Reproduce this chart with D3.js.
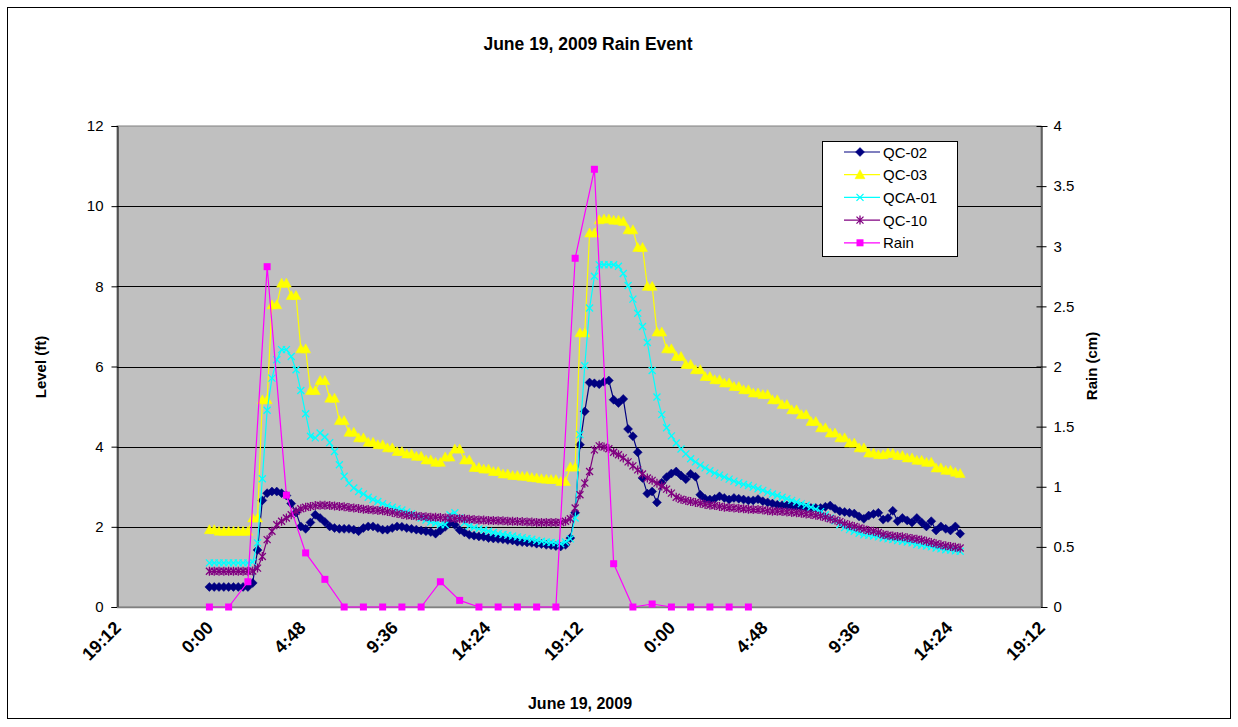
<!DOCTYPE html>
<html>
<head>
<meta charset="utf-8">
<script src="https://cdn.jsdelivr.net/npm/d3@7"></script>
<style>
  body { margin: 0; background: #fff; }
  svg { display: block; }
  text { font-family: "Liberation Sans", Arial, sans-serif; fill: #000; }
</style>
</head>
<body>
<svg id="chart" width="1238" height="727"></svg>
<script>
// ---- Data: water level (ft) every 15 minutes from 0:00, June 19 2009 ----
const qc02 = [
  0.50,0.50,0.50,0.50,0.50,0.50,0.50,0.50,0.50,0.60,
  1.42,2.66,2.84,2.88,2.88,2.84,2.78,2.58,2.36,2.01,
  1.95,2.11,2.30,2.22,2.12,2.01,1.97,1.95,1.95,1.95,
  1.93,1.89,1.97,2.01,2.01,1.97,1.93,1.93,1.97,2.01,
  2.00,1.97,1.95,1.93,1.91,1.89,1.87,1.83,1.91,2.00,
  2.10,2.05,1.92,1.86,1.80,1.78,1.76,1.75,1.72,1.71,
  1.70,1.69,1.67,1.66,1.63,1.62,1.61,1.60,1.58,1.57,
  1.55,1.54,1.52,1.51,1.55,1.72,2.35,4.05,4.88,5.60,
  5.58,5.56,5.62,5.65,5.17,5.09,5.19,4.44,4.26,3.86,
  3.22,2.83,2.88,2.61,3.10,3.24,3.33,3.38,3.28,3.19,
  3.32,3.25,2.80,2.70,2.68,2.70,2.76,2.72,2.68,2.72,
  2.70,2.68,2.66,2.66,2.69,2.64,2.61,2.58,2.55,2.54,
  2.53,2.52,2.51,2.50,2.48,2.47,2.47,2.47,2.50,2.53,
  2.45,2.39,2.37,2.35,2.33,2.26,2.20,2.28,2.32,2.35,
  2.18,2.22,2.40,2.14,2.22,2.16,2.11,2.22,2.11,2.01,
  2.14,1.91,2.01,1.95,1.91,2.01,1.83
];
const qc03 = [
  1.93,1.93,1.89,1.89,1.89,1.89,1.89,1.89,1.89,2.22,
  2.22,5.17,5.17,7.54,7.54,8.08,8.08,7.77,7.77,6.44,
  6.44,5.40,5.40,5.65,5.65,5.21,5.21,4.65,4.65,4.36,
  4.36,4.22,4.22,4.11,4.11,4.05,4.05,3.97,3.97,3.88,
  3.88,3.82,3.82,3.76,3.76,3.67,3.67,3.61,3.61,3.74,
  3.74,3.94,3.94,3.67,3.67,3.48,3.48,3.44,3.44,3.38,
  3.38,3.32,3.32,3.28,3.28,3.26,3.26,3.23,3.22,3.20,
  3.19,3.18,3.18,3.13,3.13,3.49,3.49,6.84,6.84,9.33,
  9.33,9.66,9.68,9.68,9.65,9.65,9.62,9.41,9.41,8.97,
  8.97,8.00,8.00,6.86,6.86,6.44,6.44,6.25,6.25,6.05,
  6.05,5.92,5.92,5.75,5.75,5.67,5.67,5.59,5.59,5.50,
  5.50,5.42,5.42,5.34,5.34,5.30,5.30,5.17,5.17,5.05,
  5.05,4.92,4.92,4.80,4.80,4.63,4.63,4.47,4.47,4.34,
  4.34,4.22,4.22,4.09,4.09,3.97,3.97,3.84,3.84,3.80,
  3.80,3.84,3.83,3.78,3.78,3.72,3.72,3.66,3.66,3.61,
  3.61,3.47,3.47,3.41,3.41,3.36,3.33
];
const qca01 = [
  1.10,1.10,1.10,1.10,1.10,1.10,1.10,1.10,1.10,1.12,
  1.60,3.20,4.91,5.71,6.17,6.42,6.42,6.25,5.92,5.40,
  4.82,4.26,4.22,4.34,4.24,4.10,3.88,3.55,3.26,3.09,
  2.97,2.88,2.82,2.74,2.68,2.63,2.58,2.53,2.49,2.45,
  2.42,2.37,2.33,2.27,2.22,2.17,2.12,2.09,2.06,2.05,
  2.30,2.35,2.22,2.10,2.02,1.98,1.95,1.92,1.89,1.86,
  1.83,1.81,1.79,1.77,1.75,1.73,1.71,1.69,1.66,1.64,
  1.62,1.61,1.60,1.58,1.62,1.70,2.22,4.30,6.02,7.46,
  8.25,8.54,8.54,8.54,8.54,8.50,8.32,8.02,7.68,7.33,
  7.00,6.60,5.90,5.24,4.80,4.47,4.27,4.09,3.94,3.82,
  3.70,3.62,3.54,3.47,3.40,3.34,3.29,3.24,3.19,3.14,
  3.10,3.06,3.03,2.99,2.95,2.91,2.86,2.82,2.78,2.74,
  2.70,2.66,2.62,2.58,2.54,2.49,2.44,2.38,2.30,2.22,
  2.15,2.05,1.98,1.93,1.89,1.84,1.80,1.79,1.77,1.75,
  1.72,1.70,1.68,1.66,1.64,1.62,1.60,1.56,1.54,1.52,
  1.50,1.47,1.45,1.43,1.42,1.40,1.39
];
const qc10 = [
  0.89,0.89,0.89,0.89,0.89,0.89,0.89,0.89,0.89,0.90,
  0.97,1.26,1.68,1.89,2.05,2.14,2.22,2.30,2.39,2.45,
  2.49,2.51,2.53,2.54,2.54,2.53,2.52,2.51,2.50,2.48,
  2.47,2.46,2.44,2.43,2.42,2.41,2.40,2.38,2.36,2.33,
  2.31,2.29,2.28,2.27,2.26,2.25,2.24,2.24,2.23,2.22,
  2.22,2.21,2.20,2.20,2.19,2.18,2.17,2.17,2.16,2.16,
  2.15,2.15,2.14,2.14,2.13,2.13,2.12,2.12,2.11,2.11,
  2.11,2.11,2.11,2.11,2.14,2.20,2.47,2.80,3.09,3.38,
  3.92,4.02,3.99,3.95,3.86,3.80,3.72,3.62,3.52,3.42,
  3.32,3.22,3.16,3.09,3.02,2.94,2.84,2.74,2.69,2.66,
  2.63,2.61,2.59,2.56,2.54,2.53,2.51,2.49,2.48,2.47,
  2.46,2.45,2.44,2.43,2.43,2.42,2.40,2.39,2.39,2.38,
  2.37,2.36,2.35,2.34,2.32,2.31,2.29,2.27,2.24,2.20,
  2.17,2.13,2.08,2.04,2.01,1.97,1.94,1.91,1.89,1.86,
  1.81,1.79,1.77,1.76,1.75,1.73,1.71,1.69,1.67,1.64,
  1.61,1.58,1.55,1.53,1.51,1.49,1.47
];
// ---- Data: hourly rainfall (cm) from 0:00, June 19 2009 ----
const rainCm = [
  0,0,0.21,2.83,0.93,0.45,0.23,0,0,0,
  0,0,0.21,0.055,0,0,0,0,0,2.90,
  3.64,0.36,0,0.025,0,0,0,0,0
];
const levelTicks = [0,2,4,6,8,10,12];
const rainTicks = [0,0.5,1,1.5,2,2.5,3,3.5,4];
const legendLabels = ["QC-02","QC-03","QCA-01","QC-10","Rain"];

// ---- Time base ----
const dataStart = new Date(2009, 5, 19, 0, 0);
const axisStart = new Date(2009, 5, 18, 19, 12);
const axisEnd   = new Date(2009, 5, 20, 19, 12);
const levelTime = i => d3.timeMinute.offset(dataStart, 15 * i);
const rainTime  = i => d3.timeHour.offset(dataStart, i);
const timeTicks = d3.range(11).map(k => d3.timeMinute.offset(axisStart, 288 * k));
const fmtTime = d3.timeFormat("%-H:%M");

// ---- Layout ----
const svg = d3.select("#chart");
const plot = { left: 117, right: 1041, top: 126, bottom: 607 };
const FONT = '"Liberation Sans", Arial, sans-serif';

const x = d3.scaleTime().domain([axisStart, axisEnd]).range([plot.left, plot.right]);
const yL = d3.scaleLinear().domain([0, 12]).range([plot.bottom, plot.top]);
const yR = d3.scaleLinear().domain([0, 4]).range([plot.bottom, plot.top]);

// outer chart frame
svg.append("rect").attr("x", 7.5).attr("y", 7.5).attr("width", 1223).attr("height", 711)
  .attr("fill", "#fff").attr("stroke", "#000").attr("stroke-width", 1);

// plot area
svg.append("rect")
  .attr("x", plot.left).attr("y", plot.top)
  .attr("width", plot.right - plot.left).attr("height", plot.bottom - plot.top)
  .attr("fill", "#c0c0c0").attr("stroke", "#808080").attr("stroke-width", 1);

// horizontal gridlines on level axis
svg.append("g").selectAll("line")
  .data(levelTicks.filter(d => d > 0 && d < 12))
  .join("line")
  .attr("x1", plot.left).attr("x2", plot.right)
  .attr("y1", d => Math.round(yL(d)) + 0.5).attr("y2", d => Math.round(yL(d)) + 0.5)
  .attr("stroke", "#000").attr("stroke-width", 1);

// left axis
const axL = svg.append("g").attr("transform", `translate(${plot.left + 0.5},0)`)
  .call(d3.axisLeft(yL).tickValues(levelTicks).tickSize(6).tickPadding(8).tickFormat(d3.format("d")));
axL.select(".domain").attr("stroke", "#000");
axL.selectAll(".tick line").attr("stroke", "#000");
axL.selectAll(".tick text").attr("font-size", 15).attr("font-family", FONT);

// right axis (ticks cross the axis line)
const axR = svg.append("g").attr("transform", `translate(${plot.right + 0.5},0)`)
  .call(d3.axisRight(yR).tickValues(rainTicks).tickSize(6).tickPadding(6).tickFormat(d => String(d)));
axR.select(".domain").attr("stroke", "#000");
axR.selectAll(".tick line").attr("stroke", "#000").attr("x1", -5).attr("x2", 5);
axR.selectAll(".tick text").attr("font-size", 15).attr("font-family", FONT);

// bottom axis line and rotated time labels
svg.append("line").attr("x1", plot.left).attr("x2", plot.right)
  .attr("y1", plot.bottom + 0.5).attr("y2", plot.bottom + 0.5)
  .attr("stroke", "#808080").attr("stroke-width", 1.5);
svg.append("g").selectAll("text")
  .data(timeTicks)
  .join("text")
  .attr("transform", d => `translate(${x(d) + 5},${629}) rotate(-45)`)
  .attr("text-anchor", "end")
  .attr("font-size", 18).attr("font-weight", "bold")
  .text(d => fmtTime(d));

// titles
svg.append("text").attr("x", 588).attr("y", 50).attr("text-anchor", "middle")
  .attr("font-size", 17.5).attr("font-weight", "bold").text("June 19, 2009 Rain Event");
svg.append("text").attr("x", 580).attr("y", 709).attr("text-anchor", "middle")
  .attr("font-size", 16).attr("font-weight", "bold").text("June 19, 2009");
svg.append("text").attr("transform", "translate(46,367) rotate(-90)").attr("text-anchor", "middle")
  .attr("font-size", 15).attr("font-weight", "bold").text("Level (ft)");
svg.append("text").attr("transform", "translate(1097,366) rotate(-90)").attr("text-anchor", "middle")
  .attr("font-size", 15).attr("font-weight", "bold").text("Rain (cm)");

// ---- Markers ----
function drawMarker(sel, type, color) {
  if (type === "diamond") {
    sel.append("path").attr("d", "M0,-4.5L4.5,0L0,4.5L-4.5,0Z").attr("fill", color).attr("stroke", color).attr("stroke-width", 0.5);
  } else if (type === "triangle") {
    sel.append("path").attr("d", "M0,-5L5,4L-5,4Z").attr("fill", color).attr("stroke", color).attr("stroke-width", 0.5);
  } else if (type === "x") {
    sel.append("path").attr("d", "M-3.5,-3.5L3.5,3.5M-3.5,3.5L3.5,-3.5").attr("fill", "none").attr("stroke", color).attr("stroke-width", 1.3);
  } else if (type === "star") {
    sel.append("path").attr("d", "M-3.5,-3.5L3.5,3.5M-3.5,3.5L3.5,-3.5M0,-4.5L0,4.5").attr("fill", "none").attr("stroke", color).attr("stroke-width", 1.3);
  } else if (type === "square") {
    sel.append("rect").attr("x", -3.5).attr("y", -3.5).attr("width", 7).attr("height", 7).attr("fill", color);
  }
}

const levelSeries = [
  { name: "QC-02",  values: qc02,  color: "#000080", marker: "diamond" },
  { name: "QC-03",  values: qc03,  color: "#ffff00", marker: "triangle" },
  { name: "QCA-01", values: qca01, color: "#00ffff", marker: "x" },
  { name: "QC-10",  values: qc10,  color: "#800080", marker: "star" }
];

const lineL = d3.line().x(d => x(d.t)).y(d => yL(d.v));
levelSeries.forEach(s => {
  const pts = s.values.map((v, i) => ({ t: levelTime(i), v }));
  const g = svg.append("g").attr("class", "series");
  g.append("path").datum(pts).attr("d", lineL)
    .attr("fill", "none").attr("stroke", s.color).attr("stroke-width", 1.2);
  g.selectAll("g.m").data(pts).join("g").attr("class", "m")
    .attr("transform", d => `translate(${x(d.t)},${yL(d.v)})`)
    .each(function () { drawMarker(d3.select(this), s.marker, s.color); });
});

// rain on the secondary axis
const rainPts = rainCm.map((v, i) => ({ t: rainTime(i), v }));
const lineR = d3.line().x(d => x(d.t)).y(d => yR(d.v));
const gR = svg.append("g");
gR.append("path").datum(rainPts).attr("d", lineR)
  .attr("fill", "none").attr("stroke", "#ff00ff").attr("stroke-width", 1.2);
gR.selectAll("g.m").data(rainPts).join("g").attr("class", "m")
  .attr("transform", d => `translate(${x(d.t)},${yR(d.v)})`)
  .each(function () { drawMarker(d3.select(this), "square", "#ff00ff"); });

// ---- Legend ----
const legendItems = [
  ...levelSeries.map(s => ({ label: s.name, color: s.color, marker: s.marker })),
  { label: legendLabels[4], color: "#ff00ff", marker: "square" }
];
const lg = svg.append("g").attr("transform", "translate(822,141)");
lg.append("rect").attr("x", 0.5).attr("y", 0.5).attr("width", 135).attr("height", 115)
  .attr("fill", "#fff").attr("stroke", "#000").attr("stroke-width", 1);
legendItems.forEach((it, k) => {
  const row = lg.append("g").attr("transform", `translate(0,${11 + k * 22.7})`);
  row.append("line").attr("x1", 22).attr("x2", 58).attr("y1", 0).attr("y2", 0)
    .attr("stroke", it.color).attr("stroke-width", 1.2);
  drawMarker(row.append("g").attr("transform", "translate(38,0)"), it.marker, it.color);
  row.append("text").attr("x", 61).attr("y", 5.5).attr("font-size", 15).text(it.label);
});
</script>
</body>
</html>
